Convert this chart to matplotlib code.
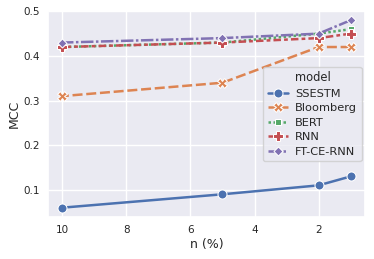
import matplotlib
matplotlib.use("Agg")
import matplotlib.pyplot as plt
import seaborn as sns
import pandas as pd

n_pct = [10, 5, 2, 1]
models = ["SSESTM", "Bloomberg", "BERT", "RNN", "FT-CE-RNN"]
mcc_ssestm = [0.06, 0.09, 0.11, 0.13]
mcc_bloomberg = [0.31, 0.34, 0.42, 0.42]
mcc_bert = [0.42, 0.43, 0.45, 0.46]
mcc_rnn = [0.42, 0.43, 0.44, 0.45]
mcc_ftcernn = [0.43, 0.44, 0.45, 0.48]

rows = []
for name, vals in zip(models, [mcc_ssestm, mcc_bloomberg, mcc_bert, mcc_rnn, mcc_ftcernn]):
    for n, v in zip(n_pct, vals):
        rows.append({"n (%)": n, "MCC": v, "model": name})
df = pd.DataFrame(rows)

sns.set_theme(style="darkgrid")
plt.rcParams.update({
    "xtick.labelsize": 7.5, "ytick.labelsize": 7.5,
    "axes.labelsize": 9,
    "xtick.major.size": 0, "ytick.major.size": 0,
    "xtick.major.pad": 6, "ytick.major.pad": 6,
    "axes.labelpad": 2,
})
fig, ax = plt.subplots(figsize=(3.74, 2.59), dpi=100)
sns.lineplot(data=df, x="n (%)", y="MCC", hue="model", style="model",
             markers=True, markersize=6.5, linewidth=1.8, ax=ax)
ax.invert_xaxis()
ax.set_yticks([0.1, 0.2, 0.3, 0.4, 0.5])
leg = ax.legend(title="model", loc="center right", fontsize=8.2, title_fontsize=8.3,
                borderaxespad=0.3, labelspacing=0.4, handlelength=1.8, handletextpad=0.6)
fig.subplots_adjust(left=0.128, right=0.976, top=0.958, bottom=0.162)
fig.savefig("out.png", dpi=100)
